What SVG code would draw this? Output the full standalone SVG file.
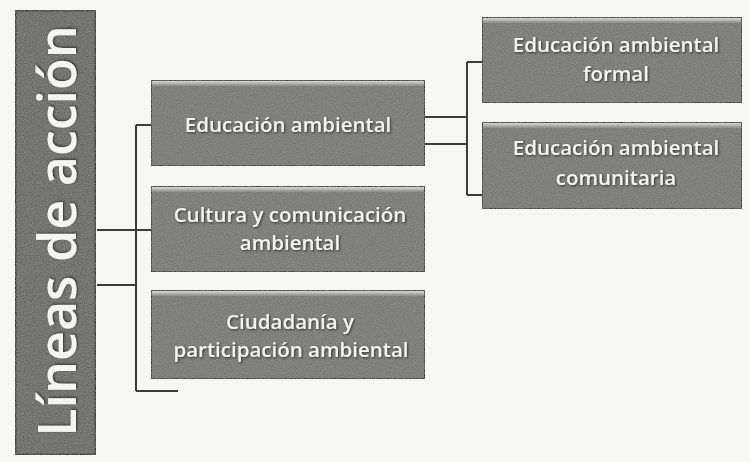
<svg xmlns="http://www.w3.org/2000/svg" width="750" height="462" viewBox="0 0 750 462">
<defs>
<filter id="grain" x="0" y="0" width="100%" height="100%">
<feTurbulence type="fractalNoise" baseFrequency="0.9" numOctaves="2" seed="3" result="n"/>
<feColorMatrix in="n" type="matrix" values="0 0 0 0 0.35  0 0 0 0 0.35  0 0 0 0 0.34  0 0 0 0.9 -0.25" result="g"/>
<feComposite in="g" in2="SourceGraphic" operator="in" result="gc"/>
<feMerge><feMergeNode in="SourceGraphic"/><feMergeNode in="gc"/></feMerge>
</filter>
<filter id="ts" x="-10%" y="-20%" width="120%" height="140%">
<feDropShadow dx="1" dy="1" stdDeviation="0.8" flood-color="#2a2a2a" flood-opacity="0.9"/>
</filter>
<linearGradient id="bev" x1="0" y1="0" x2="0" y2="1">
<stop offset="0" stop-color="#d8d8d4"/>
<stop offset="1" stop-color="#8a8a86"/>
</linearGradient>
</defs>
<style>
.box{fill:#777774;stroke:#3a3a38;stroke-width:2;filter:url(#grain)}
.root{fill:#676764;stroke:#333;stroke-width:3;filter:url(#grain)}
.bev{fill:url(#bev)}
.t{font-family:"Open Sans","Liberation Sans",sans-serif;font-weight:600;fill:#f2f2ee;text-anchor:middle;filter:url(#ts)}
.c{fill:none;stroke:#3c3c3a;stroke-width:2}
</style>
<rect width="750" height="462" fill="#f6f6f3"/>
<g id="connectors">
<path class="c" d="M97 230H151M97 285H136M136 125V391M136 125H151M136 391H178"/>
<path class="c" d="M425 117H467M425 144H467M467 62V195M467 62H482M467 195H482"/>
</g>
<g id="root">
<rect class="root" x="15" y="10" width="81" height="445"/>
<text class="t" transform="translate(76 231) rotate(-90)" font-size="52" style="fill:#f4f4f0">Líneas de acción</text>
</g>
<g id="n1">
<rect class="box" x="151" y="80" width="274" height="86"/>
<rect class="bev" x="152" y="81" width="272" height="5"/>
<text class="t" x="288" y="132" font-size="20.5">Educación ambiental</text>
</g>
<g id="n2">
<rect class="box" x="151" y="186" width="274" height="86"/>
<rect class="bev" x="152" y="187" width="272" height="5"/>
<text class="t" x="290" y="222" font-size="20.5">Cultura y comunicación</text>
<text class="t" x="290" y="250" font-size="20.5">ambiental</text>
</g>
<g id="n3">
<rect class="box" x="151" y="290" width="274" height="89"/>
<rect class="bev" x="152" y="291" width="272" height="5"/>
<text class="t" x="290" y="329" font-size="20.5">Ciudadanía y</text>
<text class="t" x="291" y="357" font-size="20.5">participación ambiental</text>
</g>
<g id="n4">
<rect class="box" x="482" y="17" width="260" height="86"/>
<rect class="bev" x="483" y="18" width="258" height="5"/>
<text class="t" x="616" y="52" font-size="20.5">Educación ambiental</text>
<text class="t" x="616" y="81" font-size="20.5">formal</text>
</g>
<g id="n5">
<rect class="box" x="482" y="122" width="260" height="87"/>
<rect class="bev" x="483" y="123" width="258" height="5"/>
<text class="t" x="616" y="155" font-size="20.5">Educación ambiental</text>
<text class="t" x="616" y="185" font-size="20.5">comunitaria</text>
</g>
</svg>
